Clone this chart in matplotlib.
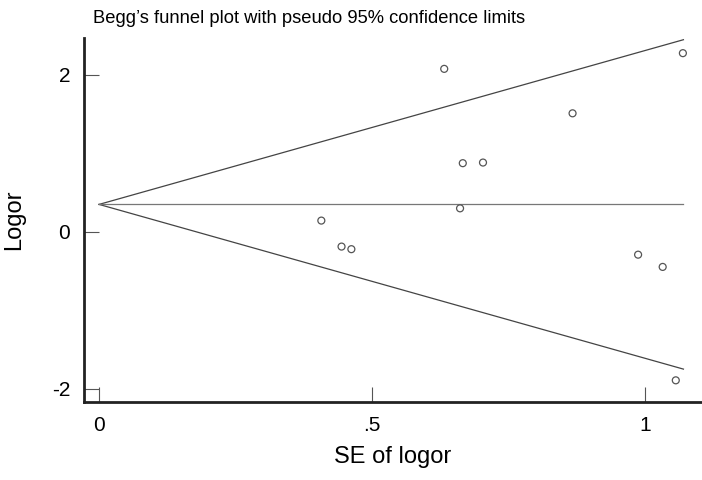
import matplotlib
matplotlib.use("Agg")
import matplotlib.pyplot as plt
import numpy as np

plt.rcParams['font.family'] = ['Liberation Sans Narrow', 'Liberation Sans', 'DejaVu Sans']

# study-level data
se_logor = [0.632, 0.666, 0.703, 0.661, 0.407, 0.444, 0.462, 1.069, 0.867, 0.987, 1.032, 1.056]
logor = [2.076, 0.875, 0.883, 0.30, 0.144, -0.187, -0.22, 2.276, 1.51, -0.29, -0.446, -1.89]
pooled = 0.35
se_max = 1.07

fig = plt.figure(figsize=(7.02, 4.8), dpi=100)
ax = fig.add_axes([0.1197, 0.1625, 0.8803, 0.7585])

se_line = np.array([0, se_max])
ax.plot(se_line, pooled + 1.96 * se_line, color='#444444', lw=0.9)
ax.plot(se_line, pooled - 1.96 * se_line, color='#444444', lw=0.9)
ax.plot(se_line, [pooled, pooled], color='#777777', lw=0.9)

ax.scatter(se_logor, logor, s=25, facecolors='none', edgecolors='#555555', linewidths=0.9, zorder=3)

ax.set_xlim(-0.0275, 1.104)
ax.set_ylim(-2.166, 2.47)
ax.set_xticks([0, 0.5, 1])
ax.set_xticklabels(['0', '.5', '1'])
ax.set_yticks([-2, 0, 2])
ax.set_yticklabels(['-2', '0', '2'])

for s in ['top', 'right']:
    ax.spines[s].set_visible(False)
for s in ['left', 'bottom']:
    ax.spines[s].set_linewidth(2)
    ax.spines[s].set_color('#222222')

ax.tick_params(direction='in', length=11, width=0.8, color='#555555', labelsize=15, pad=10)

ax.set_xlabel('SE of logor', fontsize=17, labelpad=8)
ax.set_ylabel('Logor', fontsize=17, labelpad=19)
fig.text(93 / 702, 1 - 23 / 480, "Begg\u2019s funnel plot with pseudo 95% confidence limits", fontsize=13.2, ha='left', va='baseline')

fig.savefig('out.png', dpi=100)
